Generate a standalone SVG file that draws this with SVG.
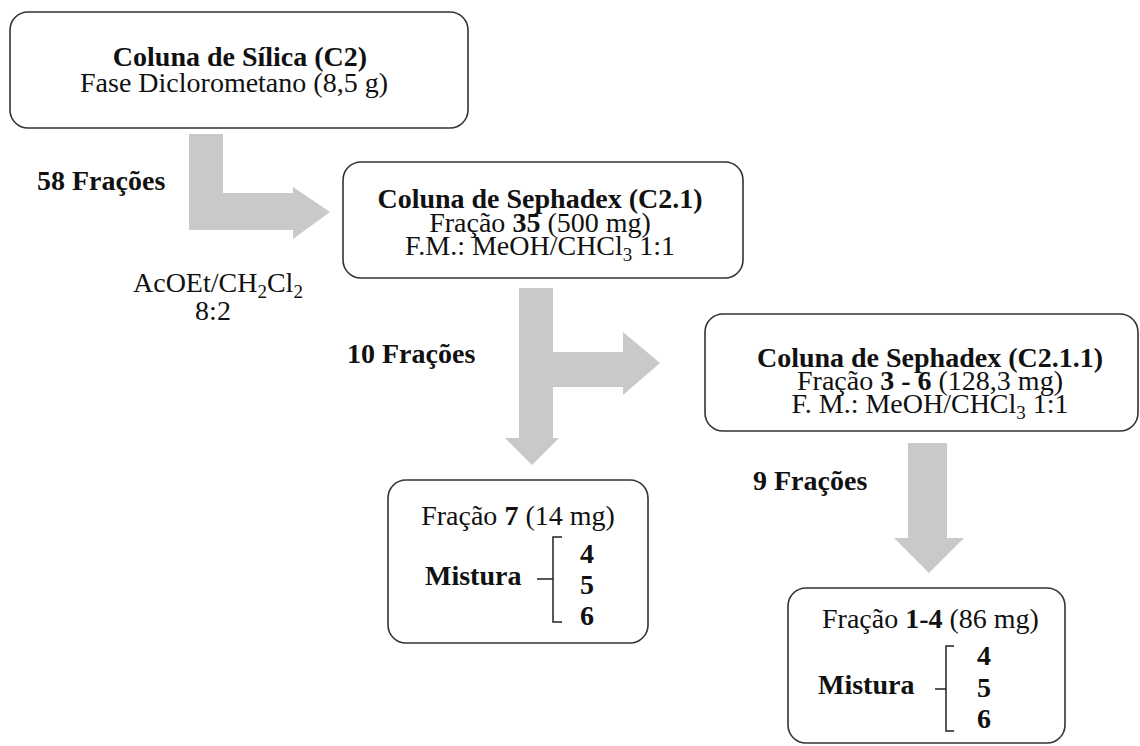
<svg xmlns="http://www.w3.org/2000/svg" width="1140" height="746" viewBox="0 0 1140 746">
<style>
text{font-family:"Liberation Serif","Times New Roman",serif;font-size:28px;fill:#111}
.b{font-weight:bold}
.sub{font-size:19px}
.box{fill:#fff;stroke:#333;stroke-width:1.6}
.arr{fill:#c9c9c9;stroke:none}
.br{fill:none;stroke:#222;stroke-width:1.5}
.m{text-anchor:middle}
</style>
<rect width="1140" height="746" fill="#fff"/>
<g id="connectors">
<polygon class="arr" points="189,134 223,134 223,193 293,193 293,187 330,212 293,239 293,230 189,230"/>
<polygon class="arr" points="519,288 553,288 553,352 623,352 623,332 660,363 623,395 623,387 553,387 553,438 559,438 532,465 505,438 519,438"/>
<polygon class="arr" points="908,443 947,443 947,538 964,538 929,573 894,538 908,538"/>
</g>
<g id="labels">
<text class="b" x="37" y="190">58 Frações</text>
<text x="133" y="292">AcOEt/CH<tspan class="sub" dy="6">2</tspan><tspan dy="-6">Cl</tspan><tspan class="sub" dy="6">2</tspan></text>
<text class="m" x="213" y="320">8:2</text>
<text class="b" x="347" y="363">10 Frações</text>
<text class="b" x="753" y="490">9 Frações</text>
</g>
<g id="node-c2">
<rect class="box" x="10" y="12" width="458" height="116" rx="18"/>
<text class="b m" x="240" y="66">Coluna de Sílica (C2)</text>
<text class="m" x="234" y="92">Fase Diclorometano (8,5 g)</text>
</g>
<g id="node-c21">
<rect class="box" x="343" y="162" width="400" height="116" rx="18"/>
<text class="b m" x="540" y="208">Coluna de Sephadex (C2.1)</text>
<text class="m" x="540" y="232">Fração <tspan class="b">35</tspan> (500 mg)</text>
<text class="m" x="540" y="255">F.M.: MeOH/CHCl<tspan class="sub" dy="6">3</tspan><tspan dy="-6"> 1:1</tspan></text>
</g>
<g id="node-c211">
<rect class="box" x="705" y="314" width="433" height="117" rx="18"/>
<text class="b m" x="930" y="367">Coluna de Sephadex (C2.1.1)</text>
<text class="m" x="930" y="390">Fração <tspan class="b">3 - 6</tspan> (128,3 mg)</text>
<text class="m" x="930" y="413">F. M.: MeOH/CHCl<tspan class="sub" dy="6">3</tspan><tspan dy="-6"> 1:1</tspan></text>
</g>
<g id="node-f7">
<rect class="box" x="388" y="480" width="260" height="163" rx="18"/>
<text class="m" x="518" y="525">Fração <tspan class="b">7</tspan> (14 mg)</text>
<text class="b" x="425" y="585">Mistura</text>
<path class="br" d="M537,579 H553 M562,537 H553 V622 H562"/>
<text class="b" x="580" y="563">4</text>
<text class="b" x="580" y="594">5</text>
<text class="b" x="580" y="625">6</text>
</g>
<g id="node-f14">
<rect class="box" x="788" y="588" width="277" height="155" rx="18"/>
<text x="822" y="628">Fração <tspan class="b">1-4</tspan> (86 mg)</text>
<text class="b" x="818" y="694">Mistura</text>
<path class="br" d="M935,689 H946 M954,646 H946 V731 H954"/>
<text class="b" x="977" y="665">4</text>
<text class="b" x="977" y="697">5</text>
<text class="b" x="977" y="728">6</text>
</g>
</svg>
